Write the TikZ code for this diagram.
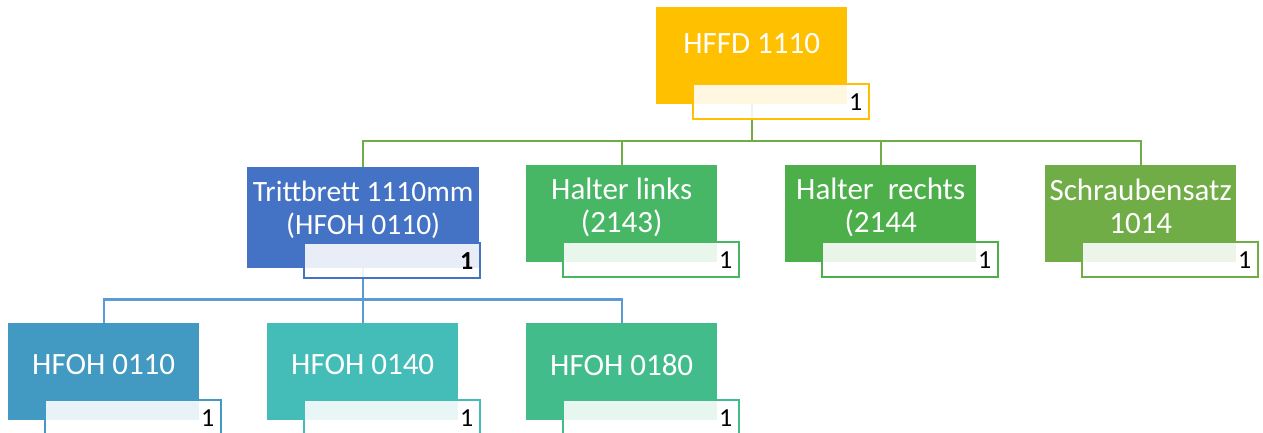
\documentclass[tikz,border=0pt]{standalone}
\usepackage{fontspec}
\setmainfont{Carlito}

\definecolor{hffdcol}{HTML}{FFC000}
\definecolor{trittcol}{HTML}{4472C4}
\definecolor{linkscol}{HTML}{47B766}
\definecolor{rechtscol}{HTML}{4DAF4A}
\definecolor{schraubcol}{HTML}{70AD47}
\definecolor{hfaacol}{HTML}{4299C2}
\definecolor{hfbbcol}{HTML}{44BDB8}
\definecolor{hfcccol}{HTML}{43BC8B}
\definecolor{linkgreen}{HTML}{70AD47}
\definecolor{linkblue}{HTML}{5B9BD5}

\begin{document}
\begin{tikzpicture}[x=1pt,y=-1pt,
    part/.style={rectangle, inner sep=0pt, anchor=north west,
      minimum width=191pt, minimum height=97pt},
    qty/.style={rectangle, draw, line width=1.5pt, fill=white,
      fill opacity=0.88, text opacity=1, anchor=north west,
      minimum width=176pt, minimum height=35pt, text width=163pt,
      align=right, inner xsep=6.5pt, inner ysep=0pt, text=black,
      font=\fontsize{26}{28}\selectfont},
    lbl/.style={text=white, align=center, font=\fontsize{31}{33}\selectfont},
    glink/.style={draw=linkgreen, line width=2.2pt},
    blink/.style={draw=linkblue, line width=2.2pt}]
  \useasboundingbox (0,0) rectangle (1263,433);

  \node[part, fill=hffdcol] (hffd) at (656,7) {};
  \node[part, fill=trittcol, minimum width=232pt, minimum height=101pt] (tritt) at (247,167) {};
  \node[part, fill=linkscol] (links) at (526,165) {};
  \node[part, fill=rechtscol] (rechts) at (785,165) {};
  \node[part, fill=schraubcol] (schraub) at (1045,165) {};
  \node[part, fill=hfaacol] (hfaa) at (8,323) {};
  \node[part, fill=hfbbcol] (hfbb) at (267,323) {};
  \node[part, fill=hfcccol] (hfcc) at (526,323) {};

  \draw[glink] (hffd.south) -- ++(0,37) -| (tritt.north);
  \draw[glink] (hffd.south) -- ++(0,37) -| (links.north);
  \draw[glink] (hffd.south) -- ++(0,37) -| (rechts.north);
  \draw[glink] (hffd.south) -- ++(0,37) -| (schraub.north);
  \draw[blink] (tritt.south) -- ++(0,31) -| (hfaa.north);
  \draw[blink] (tritt.south) -- ++(0,31) -| (hfbb.north);
  \draw[blink] (tritt.south) -- ++(0,31) -| (hfcc.north);

  \node[qty, draw=hffdcol] (hffdq) at ([shift={(36,-21)}]hffd.south west) {1};
  \node[qty, draw=trittcol, font=\fontsize{26}{28}\selectfont\bfseries] (trittq) at ([shift={(56,-26)}]tritt.south west) {1};
  \node[qty, draw=linkscol] (linksq) at ([shift={(36,-21)}]links.south west) {1};
  \node[qty, draw=rechtscol] (rechtsq) at ([shift={(36,-21)}]rechts.south west) {1};
  \node[qty, draw=schraubcol] (schraubq) at ([shift={(36,-21)}]schraub.south west) {1};
  \node[qty, draw=hfaacol] (hfaaq) at ([shift={(36,-21)}]hfaa.south west) {1};
  \node[qty, draw=hfbbcol] (hfbbq) at ([shift={(36,-21)}]hfbb.south west) {1};
  \node[qty, draw=hfcccol] (hfccq) at ([shift={(36,-21)}]hfcc.south west) {1};

  \node[lbl] (hffdt) at ([yshift=12pt]hffd.center) {HFFD 1110};
  \node[lbl, font=\fontsize{29.5}{33}\selectfont] (trittt) at ([yshift=8pt]tritt.center) {Trittbrett 1110mm\\(HFOH 0110)};
  \node[lbl] (linkst) at ([yshift=6pt]links.center) {Halter links\\(2143)};
  \node[lbl] (rechtst) at ([yshift=6pt]rechts.center) {Halter~ rechts\\(2144};
  \node[lbl] (schraubt) at ([yshift=7pt]schraub.center) {Schraubensatz\\1014};
  \node[lbl] (hfaat) at ([yshift=7pt]hfaa.center) {HFOH 0110};
  \node[lbl] (hfbbt) at ([yshift=7pt]hfbb.center) {HFOH 0140};
  \node[lbl] (hfcct) at ([yshift=7pt]hfcc.center) {HFOH 0180};
\end{tikzpicture}
\end{document}
